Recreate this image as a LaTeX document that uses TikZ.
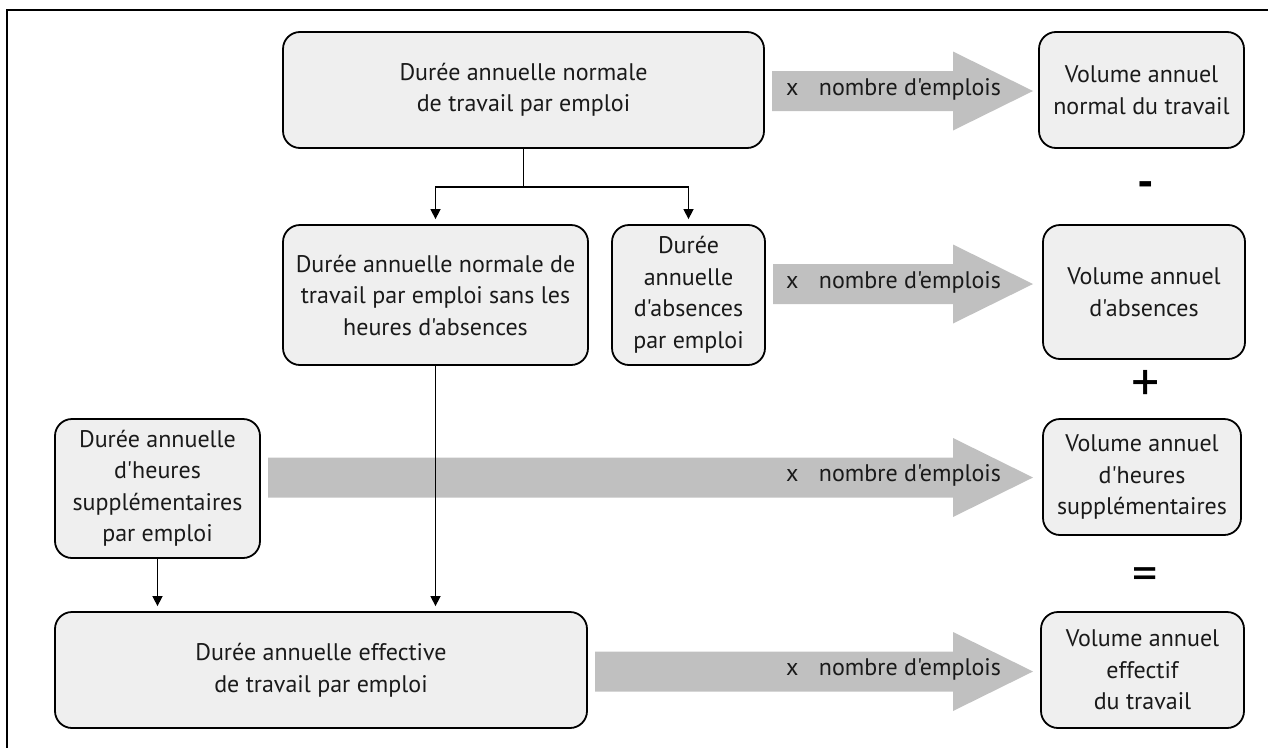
\documentclass[tikz,border=0pt]{standalone}
\usepackage{fontspec}
\setmainfont{PT Sans}[Ligatures=TeXOff]
\usetikzlibrary{arrows.meta}
\definecolor{boxfill}{HTML}{EFEFEF}
\definecolor{arrowfill}{HTML}{C0C0C0}
\definecolor{ink}{HTML}{1A1A1A}
\tikzset{
  box/.style={draw=black, line width=1.8pt, rounded corners=17pt, fill=boxfill,
    align=center, inner sep=0pt, text=ink, font=\fontsize{24}{31.5}\selectfont},
  conn/.style={line width=1.5pt, draw=black},
  conarr/.style={conn, -{Triangle[length=10pt,width=10pt]}, shorten >=5pt},
  bigarrow/.style={fill=arrowfill, draw=none},
  arrlabel/.style={anchor=west, inner sep=0pt, text=ink, font=\fontsize{24}{28}\selectfont},
  opsign/.style={inner sep=0pt, text=black}
}
\begin{document}
\begin{tikzpicture}[x=1pt,y=-1pt]
\useasboundingbox (0,0) rectangle (1268,747);
% frame
\draw[line width=2.2pt] (7,760) -- (7,10) -- (1280,10);

% boxes
\node[box, minimum width=481pt, minimum height=116pt] (A) at (523.5,90)
  {Durée annuelle normale\\de travail par emploi};
\node[box, minimum width=205pt, minimum height=116pt] (V1) at (1141.5,90)
  {Volume annuel\\normal du travail};
\node[box, minimum width=305pt, minimum height=140pt] (B) at (435.5,295)
  {Durée annuelle normale de\\travail par emploi sans les\\heures d'absences};
\node[box, minimum width=153pt, minimum height=140pt] (C) at (688.5,295)
  {Durée\\annuelle\\d'absences\\par emploi};
\node[box, minimum width=202pt, minimum height=134pt] (V2) at (1144,292)
  {Volume annuel\\d'absences};
\node[box, minimum width=205pt, minimum height=139pt] (D) at (157.5,488.5)
  {Durée annuelle\\d'heures\\supplémentaires\\par emploi};
\node[box, minimum width=198pt, minimum height=116pt] (V3) at (1142,477)
  {Volume annuel\\d'heures\\supplémentaires};
\node[box, minimum width=532pt, minimum height=116pt] (E) at (321,670)
  {Durée annuelle effective\\de travail par emploi};
\node[box, minimum width=203pt, minimum height=116pt] (V4) at (1142.5,670)
  {Volume annuel\\effectif\\du travail};

% operator signs
\node[opsign, font=\fontsize{46}{46}\selectfont\bfseries] (minus) at (1146,190) {-};
\node[opsign, font=\fontsize{56}{56}\selectfont] (plus) at (1146,386) {+};
\node[opsign, font=\fontsize{50}{50}\selectfont] (equals) at (1145,579) {=};

% big gray arrows
\fill[bigarrow] (772,71) -- (953,71) -- (953,51.5) -- (1033,91) -- (953,130.5) -- (953,111) -- (772,111) -- cycle;
\fill[bigarrow] (773,264) -- (953,264) -- (953,244.5) -- (1033,284) -- (953,323.5) -- (953,304) -- (773,304) -- cycle;
\fill[bigarrow] (268,457.5) -- (953,457.5) -- (953,438) -- (1033,477.5) -- (953,517) -- (953,497.5) -- (268,497.5) -- cycle;
\fill[bigarrow] (595,651.5) -- (953,651.5) -- (953,632) -- (1033,671.5) -- (953,711) -- (953,691.5) -- (595,691.5) -- cycle;

\node[arrlabel] (L1) at (786,89) {x\hspace{0.85em}nombre d'emplois};
\node[arrlabel] (L2) at (786,282) {x\hspace{0.85em}nombre d'emplois};
\node[arrlabel] (L3) at (786,475.5) {x\hspace{0.85em}nombre d'emplois};
\node[arrlabel] (L4) at (786,669.5) {x\hspace{0.85em}nombre d'emplois};

% connectors
\coordinate (split) at (523.5,187);
\draw[conn] (A.south) -- (split);
\draw[conarr] (split) -| (B.north);
\draw[conarr] (split) -| (C.north);
\draw[conarr] (B.south) -- (B.south |- E.north);
\draw[conarr] (D.south) -- (D.south |- E.north);
\end{tikzpicture}
\end{document}
